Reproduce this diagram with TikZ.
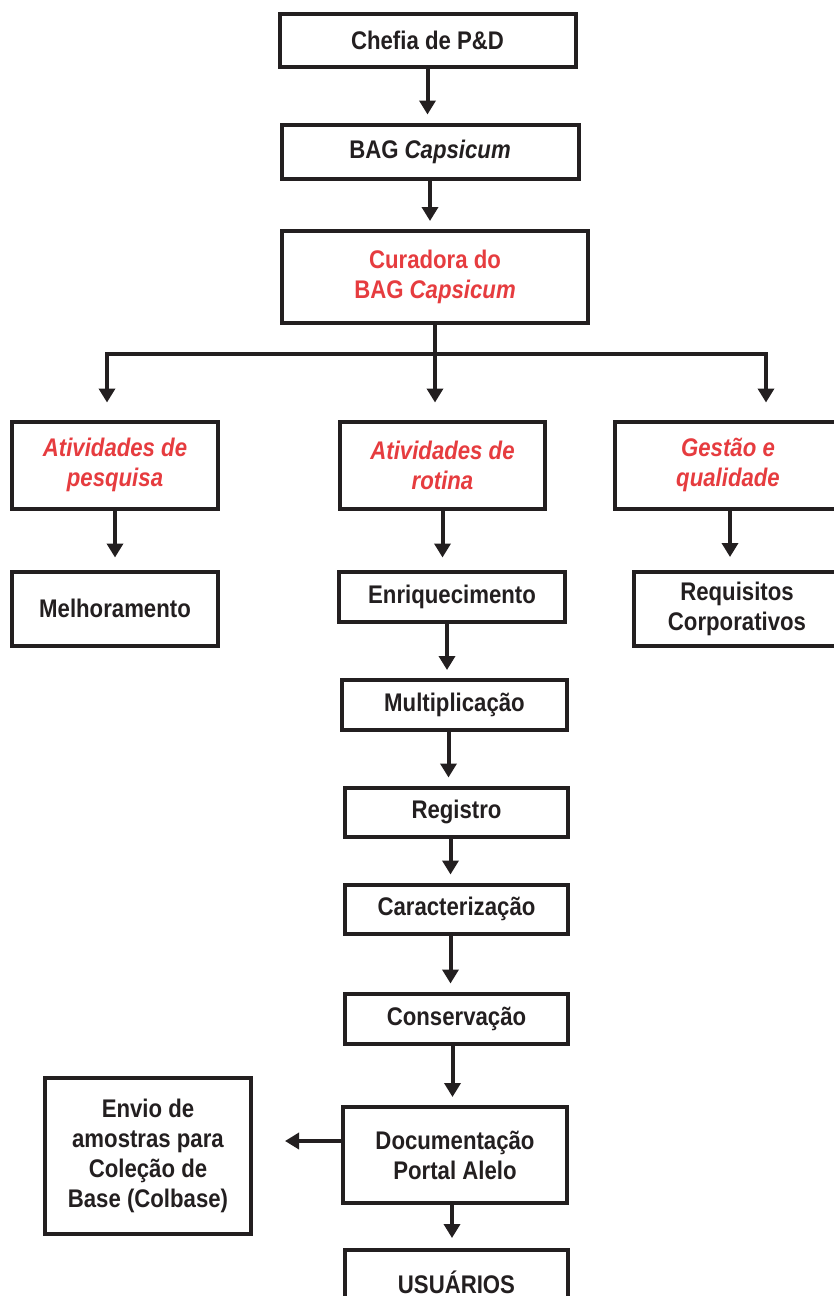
\documentclass[tikz,border=0pt]{standalone}
\usepackage{fontspec}
\setmainfont{Liberation Sans}[FakeStretch=0.87]
\usetikzlibrary{arrows.meta,positioning}
\definecolor{ink}{HTML}{231F20}
\definecolor{curred}{HTML}{E63C3F}
\tikzset{>={Triangle[width=16pt,length=14pt]},
  every node/.style={font=\fontsize{25.5}{30}\selectfont\bfseries,text=ink},
  box/.style={draw=ink,line width=4pt,align=center,inner sep=2pt},
  redlabel/.style={text=curred,font=\fontsize{25.5}{30}\selectfont\bfseries\itshape},
  link/.style={->,draw=ink,line width=4pt,shorten >=8pt},
  bus/.style={link,shorten >=17pt}}
\begin{document}
\begin{tikzpicture}[x=1pt,y=-1pt]
\useasboundingbox(0,0)rectangle(834,1296);
% chefia e curadoria
\node[box,minimum width=296pt,minimum height=53pt](chefia)at(427.5,40){Chefia de P\&D};
\node[box,minimum width=297pt,minimum height=54pt](bag)at(430,151.5){BAG \textit{Capsicum}};
\node[box,minimum width=306pt,minimum height=92pt,text=curred](cur)at(435,277){Curadora do\\BAG \textit{Capsicum}};
% tres frentes
\node[box,redlabel,minimum width=206pt,minimum height=87pt](pesq)at(115,465){Atividades de\\pesquisa};
\node[box,redlabel,minimum width=205pt,minimum height=87pt](rot)at(442.5,465){Atividades de\\rotina};
\node[box,redlabel,minimum width=226pt,minimum height=87pt](gest)at(728,465){Gestão e\\qualidade};
\node[box,minimum width=206pt,minimum height=74pt](mel)at(115,608.5){Melhoramento};
\node[box,minimum width=206pt,minimum height=74pt](req)at(737,609){Requisitos\\Corporativos};
% rotina
\node[box,minimum width=226pt,minimum height=50pt](enr)at(452,596.5){Enriquecimento};
\node[box,minimum width=225pt,minimum height=50pt](mul)at(454.5,705){Multiplicação};
\node[box,minimum width=223pt,minimum height=49pt](reg)at(456.5,812){Registro};
\node[box,minimum width=223pt,minimum height=49pt](car)at(456.5,909){Caracterização};
\node[box,minimum width=223pt,minimum height=50pt](con)at(456.5,1018.5){Conservação};
\node[box,minimum width=224pt,minimum height=96pt](doc)at(455,1155){Documentação\\Portal Alelo};
\node[box,minimum width=206pt,minimum height=156pt](env)at(148,1156){Envio de\\amostras para\\Coleção de\\Base (Colbase)};
\node[box,minimum width=223pt,minimum height=64pt](usu)at(456.5,1282){USUÁRIOS};
% conectores
\coordinate(busL)at(107,354);\coordinate(busR)at(766,354);
\coordinate(busM)at(cur.south|-busL);
\draw[link](chefia.south)--(chefia.south|-bag.north);
\draw[link](bag.south)--(bag.south|-cur.north);
\draw[bus](busM)--(busL)--(busL|-pesq.north);
\draw[bus](busM)--(busR)--(busR|-gest.north);
\draw[bus](cur.south)--(cur.south|-rot.north);
\draw[link,shorten >=12pt](pesq.south)--(pesq.south|-mel.north);
\draw[link,shorten >=13pt]([xshift=2pt]gest.south)--([xshift=2pt]gest.south|-req.north);
\draw[link,shorten >=12pt](rot.south)--(rot.south|-enr.north);
\draw[link]([xshift=-5pt]enr.south)--([xshift=-5pt]enr.south|-mul.north);
\draw[link]([xshift=-6pt]mul.south)--([xshift=-6pt]mul.south|-reg.north);
\draw[link]([xshift=-6pt]reg.south)--([xshift=-6pt]reg.south|-car.north);
\draw[link]([xshift=-6pt]car.south)--([xshift=-6pt]car.south|-con.north);
\draw[link]([xshift=-4pt]con.south)--([xshift=-4pt]con.south|-doc.north);
\draw[link,shorten >=32pt]([yshift=14pt]doc.west)--([yshift=14pt]doc.west-|env.east);
\draw[link,shorten >=10pt]([xshift=-3pt]doc.south)--([xshift=-3pt]doc.south|-usu.north);
\end{tikzpicture}
\end{document}
